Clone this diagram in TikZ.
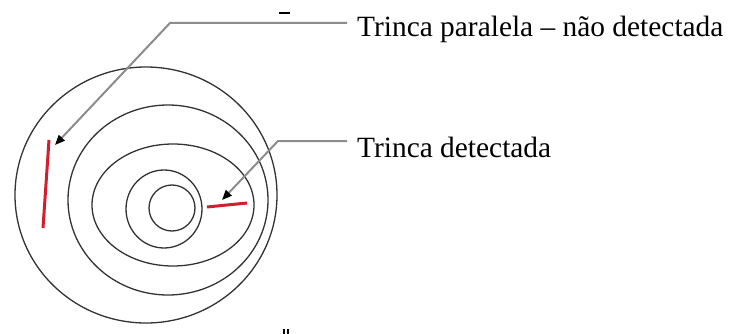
\documentclass[tikz,border=0pt]{standalone}
\usepackage{fontspec}
\setmainfont{Liberation Serif}
\usetikzlibrary{arrows.meta}
\begin{document}
\begin{tikzpicture}[x=1pt,y=-1pt,
  ring/.style={draw=black!80,line width=1.3pt},
  crack/.style={draw={rgb,255:red,210;green,30;blue,45},line width=3pt},
  leader/.style={draw=black!45,line width=2pt,-{Triangle[length=10pt,width=8pt,color=black]}},
  lbl/.style={anchor=base west,inner sep=0pt,font=\fontsize{29.4}{34}\selectfont},
  stray/.style={draw=black,line width=1.6pt}]
\useasboundingbox (0,0) rectangle (735,334);
% rings
\draw[ring] (146,195) ellipse [x radius=131,y radius=128];
\draw[ring] (168,200) ellipse [x radius=100,y radius=95];
\draw[ring] (173,205) ellipse [x radius=81,y radius=61];
\draw[ring] (164,209) ellipse [x radius=38,y radius=39];
\draw[ring] (172,208) ellipse [x radius=23,y radius=23];
% cracks
\coordinate (ca1) at (49,140); \coordinate (ca2) at (43,228);
\coordinate (cb1) at (207,207); \coordinate (cb2) at (247,203);
\draw[crack] (ca1) -- (ca2);
\draw[crack] (cb1) -- (cb2);
% labels
\node[lbl] (t1) at (357,37) {Trinca paralela – não detectada};
\node[lbl] (t2) at (357,157) {Trinca detectada};
% leaders
\coordinate (e1) at (347,23); \coordinate (k1) at (170,23); \coordinate (p1) at (55,145);
\coordinate (e2) at (347,141); \coordinate (k2) at (278,141); \coordinate (p2) at (222,200);
\draw[leader] (e1) -- (k1) -- (p1);
\draw[leader] (e2) -- (k2) -- (p2);
% stray marks
\draw[stray] (279,13) -- (290,13);
\draw[stray,line width=1.2pt] (284,329) -- (284,334) (288,329) -- (288,334);
\end{tikzpicture}
\end{document}
